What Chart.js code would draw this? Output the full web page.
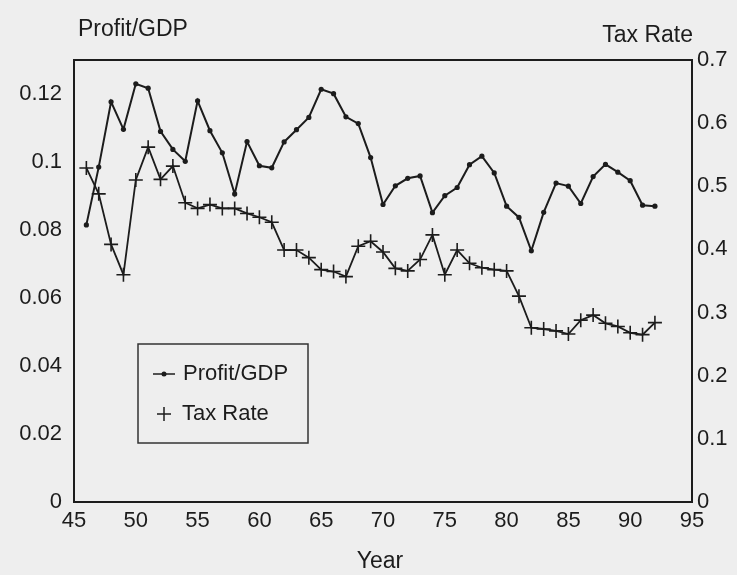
<!DOCTYPE html>
<html>
<head>
<meta charset="utf-8">
<script src="https://cdn.jsdelivr.net/npm/chart.js@4/dist/chart.umd.min.js"></script>
<style>
  html, body { margin: 0; padding: 0; background: #eeeeee; }
  #wrap { width: 737px; height: 575px; }
</style>
</head>
<body>
<div id="wrap"><canvas id="c" width="737" height="575"></canvas></div>
<script>
// ---- data ----
const years = [46,47,48,49,50,51,52,53,54,55,56,57,58,59,60,61,62,63,64,65,66,67,68,69,
               70,71,72,73,74,75,76,77,78,79,80,81,82,83,84,85,86,87,88,89,90,91,92];
const profitGDP = [0.0815,0.0985,0.1177,0.1096,0.1230,0.1217,0.1090,0.1037,0.1002,0.1180,
                   0.1092,0.1027,0.0906,0.1060,0.0989,0.0983,0.1059,0.1095,0.1131,0.1214,
                   0.1201,0.1133,0.1113,0.1013,0.0875,0.0930,0.0952,0.0959,0.0851,0.0901,
                   0.0925,0.0992,0.1017,0.0968,0.0870,0.0837,0.0739,0.0852,0.0938,0.0929,
                   0.0878,0.0957,0.0993,0.0970,0.0945,0.0873,0.0870];
const taxRate = [0.529,0.488,0.408,0.360,0.510,0.562,0.511,0.532,0.474,0.465,
                 0.471,0.465,0.465,0.457,0.451,0.443,0.399,0.399,0.387,0.368,
                 0.365,0.357,0.405,0.413,0.396,0.370,0.366,0.384,0.423,0.360,
                 0.399,0.378,0.371,0.368,0.366,0.326,0.276,0.274,0.271,0.266,
                 0.288,0.296,0.283,0.278,0.268,0.265,0.284];
const seriesNames = ["Profit/GDP", "Tax Rate"];
const leftAxisTitle = "Profit/GDP";
const rightAxisTitle = "Tax Rate";
const xAxisTitle = "Year";

const INK = "#1c1c1c";
const FONT = "Liberation Sans, Arial, Helvetica, sans-serif";

const fmt = v => String(Math.round(v * 100) / 100);

const decor = {
  id: "decor",
  beforeDraw(chart) {
    const ctx = chart.ctx;
    ctx.save();
    ctx.fillStyle = "#eeeeee";
    ctx.fillRect(0, 0, chart.width, chart.height);
    ctx.restore();
  },
  afterDraw(chart) {
    const ctx = chart.ctx;
    const a = chart.chartArea;
    ctx.save();
    // plot frame
    ctx.strokeStyle = INK;
    ctx.lineWidth = 2;
    ctx.strokeRect(a.left, a.top, a.right - a.left, a.bottom - a.top);
    // axis titles
    ctx.fillStyle = INK;
    ctx.font = "23px " + FONT;
    ctx.textBaseline = "middle";
    ctx.textAlign = "left";
    ctx.fillText(leftAxisTitle, 78, 30);
    ctx.textAlign = "right";
    ctx.fillText(rightAxisTitle, 693, 36);
    ctx.textAlign = "center";
    ctx.fillText(xAxisTitle, 380, 562);
    // legend
    const bx = 138, by = 344, bw = 170, bh = 99;
    ctx.fillStyle = "#eeeeee";
    ctx.fillRect(bx, by, bw, bh);
    ctx.lineWidth = 1.5;
    ctx.strokeStyle = "#333";
    ctx.strokeRect(bx, by, bw, bh);
    const ds = chart.data.datasets;
    ctx.font = "22px " + FONT;
    ctx.textAlign = "left";
    ctx.fillStyle = INK;
    // entry 1: line + dot
    let y1 = 374;
    ctx.strokeStyle = INK;
    ctx.lineWidth = 1.5;
    ctx.beginPath(); ctx.moveTo(153, y1); ctx.lineTo(175, y1); ctx.stroke();
    ctx.beginPath(); ctx.arc(164, y1, 2.5, 0, Math.PI * 2); ctx.fill();
    ctx.fillText(ds[0].label, 183, y1);
    // entry 2: cross
    let y2 = 414;
    ctx.beginPath();
    ctx.moveTo(157, y2); ctx.lineTo(171, y2);
    ctx.moveTo(164, y2 - 7); ctx.lineTo(164, y2 + 7);
    ctx.stroke();
    ctx.fillText(ds[1].label, 182, y2);
    ctx.restore();
  }
};

new Chart(document.getElementById("c"), {
  type: "line",
  data: {
    labels: years,
    datasets: [
      {
        label: seriesNames[0],
        data: years.map((y, i) => ({ x: y, y: profitGDP[i] })),
        yAxisID: "yL",
        borderColor: INK,
        backgroundColor: INK,
        borderWidth: 2,
        pointStyle: "circle",
        pointRadius: 2.6,
        pointBorderWidth: 0,
        tension: 0,
        fill: false
      },
      {
        label: seriesNames[1],
        data: years.map((y, i) => ({ x: y, y: taxRate[i] })),
        yAxisID: "yR",
        borderColor: INK,
        backgroundColor: INK,
        borderWidth: 1.8,
        pointStyle: "cross",
        pointRadius: 7,
        pointBorderWidth: 1.6,
        pointBorderColor: INK,
        tension: 0,
        fill: false
      }
    ]
  },
  options: {
    responsive: false,
    animation: false,
    devicePixelRatio: 1,
    layout: { padding: { top: 60, left: 0, right: 0, bottom: 0 } },
    plugins: { legend: { display: false }, tooltip: { enabled: false }, title: { display: false } },
    scales: {
      x: {
        type: "linear",
        min: 45, max: 95,
        grid: { display: false, drawTicks: false },
        border: { display: false },
        ticks: { stepSize: 5, color: INK, font: { family: FONT, size: 22 }, padding: 6, maxRotation: 0 },
        afterFit(s) { s.height = 73; }
      },
      yL: {
        type: "linear",
        position: "left",
        min: 0, max: 0.13,
        grid: { display: false, drawTicks: false },
        border: { display: false },
        ticks: { stepSize: 0.02, includeBounds: false, color: INK, font: { family: FONT, size: 22 }, padding: 12, callback: v => fmt(v) },
        afterFit(s) { s.width = 74; }
      },
      yR: {
        type: "linear",
        position: "right",
        min: 0, max: 0.7,
        grid: { display: false, drawTicks: false },
        border: { display: false },
        ticks: { stepSize: 0.1, color: INK, font: { family: FONT, size: 22 }, padding: 5, callback: v => fmt(v) },
        afterFit(s) { s.width = 45; }
      }
    }
  },
  plugins: [decor]
});
</script>
</body>
</html>
